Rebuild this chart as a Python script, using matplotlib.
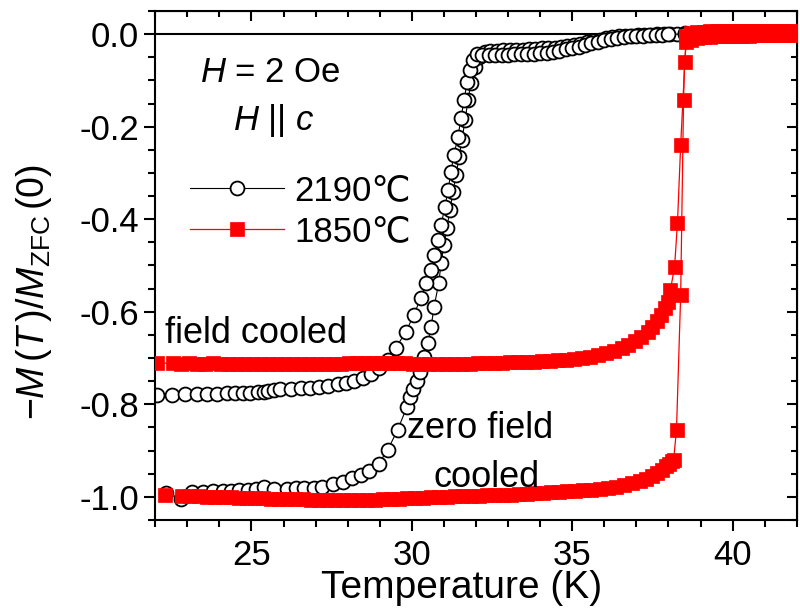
import matplotlib
matplotlib.use("Agg")
import matplotlib.pyplot as plt
from matplotlib.ticker import MultipleLocator
from matplotlib.lines import Line2D

plt.rcParams['font.family'] = ['Liberation Sans', 'DejaVu Sans']
plt.rcParams['mathtext.fontset'] = 'custom'
plt.rcParams['mathtext.rm'] = 'Liberation Sans'
plt.rcParams['mathtext.it'] = 'Liberation Sans:italic'

# sample labels
labels = ['2190℃', '1850℃']

# 2190 C sample, zero field cooled (black open circles)
t_2190_zfc = [22.35, 22.8, 23.15, 23.5, 23.8, 24.1, 24.35, 24.6, 24.9, 25.15, 25.4, 25.7,
              26.1, 26.4, 26.65, 26.95, 27.2, 27.55, 27.85, 28.15, 28.4, 28.65, 28.97,
              29.25, 29.56, 29.85, 29.95, 30.05, 30.15, 30.25, 30.38, 30.5, 30.6, 30.69,
              30.84, 30.91, 31.0, 31.09, 31.19, 31.28, 31.38, 31.47, 31.56, 31.66, 31.75,
              31.84, 31.97, 32.09, 32.28, 32.45, 32.65, 32.85, 33.05, 33.25, 33.45, 33.65,
              33.85, 34.05, 34.25, 34.45, 34.65, 34.85, 35.05, 35.25, 35.45, 35.65, 35.85,
              36.05, 36.25, 36.45, 36.65, 36.85, 37.05, 37.25, 37.45, 37.65, 37.85, 38.05,
              38.25, 38.5, 39.0, 39.5, 40.0, 40.5, 41.0, 41.5, 42.0]
m_2190_zfc = [-0.991, -1.004, -0.990, -0.989, -0.988, -0.987, -0.987, -0.986, -0.985, -0.984,
              -0.979, -0.983, -0.983, -0.982, -0.981, -0.980, -0.978, -0.972, -0.968, -0.960,
              -0.953, -0.945, -0.928, -0.898, -0.855, -0.805, -0.785, -0.768, -0.750, -0.730,
              -0.698, -0.667, -0.633, -0.590, -0.538, -0.495, -0.456, -0.419, -0.380, -0.341,
              -0.305, -0.266, -0.229, -0.186, -0.143, -0.106, -0.071, -0.050, -0.039, -0.037,
              -0.036, -0.035, -0.035, -0.034, -0.034, -0.033, -0.032, -0.031, -0.030, -0.029,
              -0.027, -0.025, -0.023, -0.021, -0.018, -0.015, -0.012, -0.009, -0.007, -0.005,
              -0.004, -0.003, -0.002, -0.001, -0.001, 0.000, 0.000, 0.001, 0.001, 0.002,
              0.002, 0.002, 0.002, 0.002, 0.002, 0.002, 0.002]

# 2190 C sample, field cooled
t_2190_fc = [22.06, 22.53, 22.94, 23.31, 23.63, 23.94, 24.25, 24.5, 24.75, 24.97, 25.19,
             25.38, 25.53, 25.69, 25.9, 26.22, 26.53, 26.84, 27.1, 27.38, 27.69, 27.94,
             28.19, 28.47, 28.72, 28.97, 29.25, 29.5, 29.81, 30.06, 30.28, 30.44, 30.6,
             30.69, 30.81, 30.91, 31.03, 31.13, 31.22, 31.31, 31.44, 31.53, 31.63, 31.72,
             31.81, 31.91, 32.03, 32.2, 32.4, 32.6, 32.8, 33.0, 33.2, 33.4, 33.6, 33.8,
             34.0, 34.2, 34.4, 34.6, 34.8, 35.0, 35.2, 35.4, 35.6, 35.8, 36.0, 36.2, 36.4,
             36.6, 36.8, 37.0, 37.2, 37.4, 37.6, 37.8, 38.0, 38.5, 39.0, 40.0, 41.0, 42.0]
m_2190_fc = [-0.780, -0.779, -0.778, -0.778, -0.777, -0.777, -0.776, -0.776, -0.775, -0.775,
             -0.774, -0.773, -0.772, -0.770, -0.767, -0.766, -0.765, -0.764, -0.762, -0.760,
             -0.757, -0.754, -0.750, -0.744, -0.735, -0.722, -0.705, -0.678, -0.644, -0.607,
             -0.570, -0.538, -0.510, -0.477, -0.445, -0.413, -0.374, -0.337, -0.298, -0.261,
             -0.222, -0.181, -0.143, -0.104, -0.078, -0.056, -0.043, -0.045, -0.046, -0.046,
             -0.045, -0.045, -0.044, -0.043, -0.043, -0.042, -0.041, -0.040, -0.038, -0.036,
             -0.033, -0.030, -0.027, -0.024, -0.020, -0.016, -0.013, -0.010, -0.008, -0.006,
             -0.005, -0.004, -0.003, -0.002, -0.001, -0.001, 0.000, 0.000, 0.000, 0.000,
             0.000, 0.000]

# 1850 C sample, zero field cooled (red squares)
t_1850_zfc = [22.3, 22.85, 23.1, 23.35, 23.6, 23.85, 24.1, 24.35, 24.6, 24.85, 25.1, 25.35,
              25.6, 25.85, 26.1, 26.35, 26.6, 26.85, 27.1, 27.35, 27.6, 27.85, 28.1, 28.35,
              28.6, 28.85, 29.1, 29.35, 29.6, 29.85, 30.1, 30.35, 30.6, 30.85, 31.1, 31.35,
              31.6, 31.85, 32.1, 32.35, 32.6, 32.85, 33.1, 33.35, 33.6, 33.85, 34.1, 34.35,
              34.6, 34.85, 35.1, 35.35, 35.6, 35.85, 36.1, 36.35, 36.6, 36.85, 37.1, 37.3,
              37.5, 37.65, 37.8, 37.92, 38.02, 38.1, 38.16, 38.25, 38.38, 38.47, 38.5, 38.56,
              38.7, 38.9, 39.1, 39.3, 39.5, 39.7, 39.9, 40.1, 40.3, 40.5, 40.7, 40.9, 41.1,
              41.3, 41.5, 41.7, 41.9]
m_1850_zfc = [-0.996, -0.998, -0.999, -0.999, -1.000, -1.000, -1.001, -1.001, -1.002, -1.002,
              -1.003, -1.003, -1.004, -1.004, -1.005, -1.005, -1.005, -1.006, -1.006, -1.006,
              -1.006, -1.006, -1.006, -1.006, -1.006, -1.006, -1.005, -1.005, -1.004, -1.003,
              -1.003, -1.002, -1.001, -1.000, -1.000, -0.999, -0.999, -0.998, -0.998, -0.997,
              -0.996, -0.996, -0.995, -0.994, -0.993, -0.992, -0.991, -0.990, -0.989, -0.988,
              -0.987, -0.986, -0.985, -0.983, -0.981, -0.978, -0.975, -0.971, -0.966, -0.961,
              -0.955, -0.948, -0.941, -0.934, -0.928, -0.923, -0.920, -0.855, -0.564, -0.143,
              -0.060, -0.018, -0.012, -0.009, -0.007, -0.006, -0.005, -0.004, -0.004, -0.003,
              -0.003, -0.003, -0.002, -0.002, -0.002, -0.002, -0.001, -0.001, -0.001]

# 1850 C sample, field cooled
t_1850_fc = [22.05, 22.55, 22.8, 23.05, 23.3, 23.55, 23.8, 24.05, 24.3, 24.55, 24.8, 25.05,
             25.3, 25.55, 25.8, 26.05, 26.3, 26.55, 26.8, 27.05, 27.3, 27.55, 27.8, 28.05,
             28.3, 28.55, 28.8, 29.05, 29.3, 29.55, 29.8, 30.05, 30.3, 30.55, 30.8, 31.05,
             31.3, 31.55, 31.8, 32.05, 32.3, 32.55, 32.8, 33.05, 33.3, 33.55, 33.8, 34.05,
             34.3, 34.55, 34.8, 35.05, 35.3, 35.55, 35.8, 36.05, 36.3, 36.55, 36.75, 36.95,
             37.15, 37.35, 37.5, 37.65, 37.78, 37.9, 37.97, 38.06, 38.19, 38.28, 38.38, 38.55,
             38.7, 38.9, 39.1, 39.3, 39.5, 39.7, 39.9, 40.1, 40.3, 40.5, 40.7, 40.9, 41.1,
             41.3, 41.5, 41.7, 41.9]
m_1850_fc = [-0.711, -0.711, -0.712, -0.711, -0.712, -0.712, -0.711, -0.712, -0.713, -0.712,
             -0.713, -0.713, -0.714, -0.713, -0.714, -0.714, -0.713, -0.714, -0.714, -0.713,
             -0.713, -0.712, -0.712, -0.711, -0.711, -0.711, -0.710, -0.710, -0.711, -0.711,
             -0.711, -0.712, -0.712, -0.712, -0.713, -0.713, -0.713, -0.712, -0.712, -0.711,
             -0.711, -0.710, -0.710, -0.709, -0.709, -0.708, -0.708, -0.707, -0.706, -0.705,
             -0.704, -0.702, -0.700, -0.698, -0.694, -0.690, -0.685, -0.678, -0.671, -0.663,
             -0.654, -0.643, -0.633, -0.620, -0.607, -0.592, -0.580, -0.553, -0.503, -0.408,
             -0.240, -0.005, 0.002, 0.004, 0.005, 0.006, 0.006, 0.006, 0.006, 0.006,
             0.006, 0.006, 0.006, 0.006, 0.006, 0.006, 0.006, 0.006, 0.006]

fig = plt.figure(figsize=(8, 6.11), dpi=100)
ax = fig.add_axes([0.194, 0.149, 0.802, 0.833])

ax.axhline(0, color='black', lw=1.5, zorder=1)

circ = dict(color='black', lw=0.8, marker='o', ms=10, mfc='white', mec='black', mew=1.3)
sq = dict(color='red', lw=0.9, marker='s', ms=10.5, mfc='red', mec='red', mew=0.5)

ax.plot(t_2190_zfc, m_2190_zfc, zorder=2, **circ)
ax.plot(t_2190_fc, m_2190_fc, zorder=2, **circ)
ax.plot(t_1850_zfc, m_1850_zfc, zorder=3, **sq)
ax.plot(t_1850_fc, m_1850_fc, zorder=3, **sq)

ax.set_xlim(22, 42)
ax.set_ylim(-1.05, 0.05)
ax.xaxis.set_major_locator(MultipleLocator(5))
ax.xaxis.set_minor_locator(MultipleLocator(1))
ax.yaxis.set_major_locator(MultipleLocator(0.2))
ax.yaxis.set_minor_locator(MultipleLocator(0.05))
ax.yaxis.set_major_formatter(lambda v, p: f"{v:.1f}".replace('-0.0', '0.0'))
ax.tick_params(which='both', direction='out', width=1.5, labelsize=25, top=False, right=False)
ax.tick_params(which='major', length=8)
ax.tick_params(which='minor', length=5)
ax.tick_params(axis='x', which='major', pad=6)
for s in ax.spines.values():
    s.set_linewidth(1.5)

# inward ticks on top and right
sx = ax.secondary_xaxis('top')
sx.xaxis.set_major_locator(MultipleLocator(5))
sx.xaxis.set_minor_locator(MultipleLocator(1))
sx.tick_params(which='both', direction='in', width=1.5, labeltop=False)
sx.tick_params(which='major', length=7)
sx.tick_params(which='minor', length=4)
sy = ax.secondary_yaxis('right')
sy.yaxis.set_major_locator(MultipleLocator(0.2))
sy.yaxis.set_minor_locator(MultipleLocator(0.05))
sy.tick_params(which='both', direction='in', width=1.5, labelright=False)
sy.tick_params(which='major', length=7)
sy.tick_params(which='minor', length=4)

ax.set_xlabel('Temperature (K)', fontsize=28)
ax.xaxis.set_label_coords(0.477, -0.098)
ax.set_ylabel(r'$-M\,(T\,)/M_{\mathrm{ZFC}}\,(0)$', fontsize=27)
ax.yaxis.set_label_coords(-0.158, 0.448)

ax.text(0.18, 0.88, r'$H$ = 2 Oe', transform=ax.transAxes, fontsize=25, ha='center', va='center')
ax.text(0.185, 0.784, r'$H$ || $c$', transform=ax.transAxes, fontsize=25, ha='center', va='center')
ax.text(0.015, 0.367, 'field cooled', transform=ax.transAxes, fontsize=26, ha='left', va='center')
ax.text(0.393, 0.18, 'zero field', transform=ax.transAxes, fontsize=26, ha='left', va='center')
ax.text(0.433, 0.083, 'cooled', transform=ax.transAxes, fontsize=26, ha='left', va='center')

handles = [Line2D([], [], **circ), Line2D([], [], **sq)]
ax.legend(handles, labels, loc='upper left', bbox_to_anchor=(0.054, 0.68), frameon=False,
          fontsize=25, handlelength=2.7, handletextpad=0.3, labelspacing=0.25,
          borderpad=0, borderaxespad=0)

fig.savefig('out.png', dpi=100)
